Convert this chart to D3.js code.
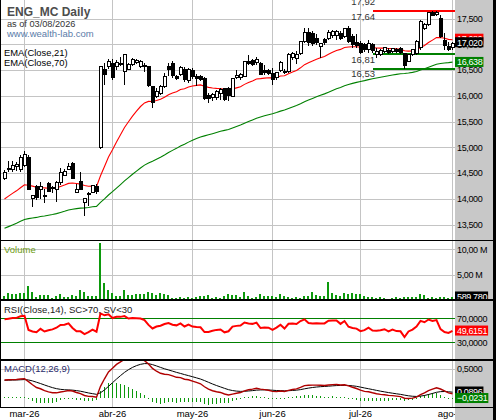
<!DOCTYPE html>
<html><head><meta charset="utf-8">
<script src="https://cdn.jsdelivr.net/npm/d3@7"></script>
<style>
body{margin:0;background:#fff}
svg{display:block}
text{font-family:"Liberation Sans",Arial,sans-serif}
</style>
</head><body>
<svg id="c" width="496" height="420"></svg>
<script>
// ---------- DATA ----------
const opens = [14.39,14.57,14.58,14.62,14.58,14.65,14.82,14.00,14.26,14.18,
14.04,14.31,14.24,14.18,14.31,14.46,14.58,14.70,14.13,14.34,
13.93,14.08,14.13,14.26,14.99,16.52,16.57,16.64,16.56,16.60,
16.47,16.52,16.60,16.64,16.56,16.60,16.57,16.19,15.99,16.05,
16.18,16.57,16.64,16.39,16.41,16.52,16.29,16.51,16.39,16.38,
16.34,16.02,15.96,15.96,16.05,16.15,16.15,15.98,16.35,16.35,
16.38,16.67,16.69,16.64,16.64,16.51,16.51,16.44,16.35,16.50,
16.49,16.47,16.74,16.73,16.82,17.05,17.24,17.22,17.13,16.95,
17.10,17.12,17.17,17.17,17.21,17.15,17.32,17.17,17.05,17.03,
17.01,16.89,17.01,16.80,16.81,16.86,16.89,16.86,16.90,16.92,
16.83,16.67,16.80,16.83,16.93,17.31,17.38,17.62,17.57,17.51,
17.09,16.96,16.93];
const highs = [14.57,14.73,14.73,14.72,14.86,14.93,14.86,14.08,14.27,14.32,
14.19,14.33,14.26,14.34,14.60,14.58,14.70,14.71,14.29,14.53,
14.01,14.13,14.27,14.29,16.58,16.64,16.71,16.71,16.70,16.76,
16.81,16.64,16.73,16.71,16.69,16.64,16.58,16.19,16.15,16.21,
16.44,16.64,16.67,16.41,16.57,16.56,16.54,16.54,16.43,16.41,
16.37,16.05,16.05,16.12,16.15,16.16,16.18,16.34,16.51,16.44,
16.68,16.80,16.71,16.76,16.65,16.60,16.52,16.54,16.47,16.67,
16.53,16.83,16.85,16.86,17.06,17.31,17.31,17.25,17.19,17.03,
17.12,17.28,17.27,17.28,17.25,17.32,17.35,17.19,17.20,17.06,
17.03,17.09,17.03,16.93,16.91,16.95,16.92,16.93,16.93,16.94,
16.84,16.81,16.91,17.09,17.48,17.41,17.62,17.64,17.64,17.57,
17.22,17.05,17.05];
const lows = [14.37,14.53,14.53,14.55,14.53,14.62,14.17,13.85,13.98,13.99,
13.92,14.13,14.11,13.95,14.27,14.44,14.57,14.38,14.11,14.17,
13.67,13.87,14.11,14.10,14.97,16.21,16.52,16.31,16.51,16.57,
16.21,16.51,16.58,16.62,16.54,16.47,16.18,15.77,15.96,16.02,
16.15,16.38,16.34,16.30,16.38,16.27,16.25,16.33,16.20,16.28,
15.92,15.86,15.89,15.92,15.92,15.89,15.89,15.97,16.33,16.31,
16.37,16.60,16.57,16.60,16.40,16.41,16.41,16.21,16.31,16.47,
16.43,16.45,16.70,16.62,16.80,17.02,16.97,16.96,16.99,16.74,
16.99,17.09,17.13,17.09,17.09,17.13,17.02,16.93,16.93,16.82,
16.85,16.83,16.84,16.73,16.78,16.84,16.82,16.84,16.83,16.82,
16.53,16.65,16.78,16.80,16.89,17.28,17.35,17.54,17.54,17.12,
16.89,16.86,16.89];
const closes = [14.52,14.59,14.64,14.66,14.81,14.86,14.18,14.07,14.02,14.24,
14.06,14.14,14.20,14.31,14.51,14.53,14.63,14.39,14.18,14.18,
14.00,14.11,14.26,14.13,16.57,16.41,16.67,16.34,16.64,16.63,
16.80,16.60,16.71,16.69,16.67,16.56,16.19,15.86,16.09,16.18,
16.38,16.51,16.38,16.33,16.54,16.31,16.51,16.36,16.33,16.31,
15.93,15.94,16.02,16.09,16.12,15.92,15.99,16.33,16.39,16.41,
16.67,16.62,16.60,16.70,16.41,16.44,16.43,16.31,16.45,16.65,
16.44,16.80,16.82,16.80,17.05,17.22,17.03,17.01,17.03,17.02,
17.02,17.22,17.24,17.24,17.11,17.30,17.05,16.99,16.96,16.83,
16.88,17.01,16.87,16.86,16.88,16.93,16.84,16.91,16.85,16.84,
16.57,16.80,16.89,17.05,17.44,17.38,17.61,17.55,17.62,17.15,
16.96,16.89,17.02];
// volume in millions of shares
const volumes = [0.79,1.45,1.3,1.3,1.45,1.45,2.8,1.65,0.66,1.0,
1.0,1.0,0.46,0.8,1.2,0.66,0.66,1.0,0.85,2.1,
1.65,0.8,0.8,0.8,11.2,3.4,2.1,1.45,0.8,0.8,
2.1,1.0,1.0,1.2,1.2,1.2,1.65,1.45,1.0,1.45,
1.3,1.0,0.52,0.52,0.66,0.52,0.66,0.46,0.66,0.8,
0.8,1.0,0.46,0.66,0.52,0.8,1.2,1.0,1.0,0.66,
1.65,0.8,0.46,0.66,1.2,0.8,0.8,0.8,0.66,1.2,
0.8,0.66,0.52,0.66,0.52,0.8,0.8,1.65,1.0,0.8,
0.8,3.6,1.45,1.0,0.8,1.45,1.3,1.45,1.2,1.2,
0.8,0.66,0.66,0.52,0.66,0.46,0.33,0.52,0.66,0.52,
0.66,0.66,0.66,0.66,1.2,1.0,0.52,0.66,0.52,0.66,
0.66,0.52,0.58978];

const monthLabels = ["mar-26","abr-26","may-26","jun-26","jul-26","ago-26"];
const monthStartIdx = [5,27,47,67,89,112];
const priceTicks = [13.5,14,14.5,15,15.5,16,16.5,17,17.5];
const volumeTicks = [5,10];
const rsiTicks = [30,50,70];
const rsiBands = [30,70];
const macdTicks = [0.5];
const resistanceLevels = [17.92,17.64];
const supportLevels = [16.81,16.53];

// indicator starting states (history before first bar)
const ema21Start = 14.00, ema70Start = 13.43;
const rsiGainStart = 0.09, rsiLossStart = 0.042;
const ema12Start = 14.26, ema26Start = 13.955, signalStart = 0.30;

// values shown in the right-hand value boxes
const lastEma70Label = 16.638;
const lastRsiLabel = 49.6151;
const lastSignalLabel = 0.0896;
const lastHistLabel = -0.0231;
const lastVolumeShares = 589780;

// ---------- INDICATORS ----------
function ema(src, n, start){const a=2/(n+1);const o=[start];for(let i=1;i<src.length;i++)o.push(o[i-1]+a*(src[i]-o[i-1]));return o;}
const ema21 = ema(closes,21,ema21Start);
const ema70 = ema(closes,70,ema70Start);
const rsi = (()=>{let g=rsiGainStart,l=rsiLossStart;const o=[100*g/(g+l)];
  for(let i=1;i<closes.length;i++){const d=closes[i]-closes[i-1];g=(g*13+Math.max(d,0))/14;l=(l*13+Math.max(-d,0))/14;o.push(100*g/(g+l));}return o;})();
const e12 = ema(closes,12,ema12Start), e26 = ema(closes,26,ema26Start);
const macd = e12.map((v,i)=>v-e26[i]);
const signal = ema(macd,9,signalStart);
const hist = macd.map((v,i)=>v-signal[i]);

// ---------- DRAW ----------
const loc = d3.formatLocale({decimal:",",thousands:".",grouping:[3],currency:["",""]});
const f2=loc.format(".2f"), f3=loc.format(".3f"), f4=loc.format(".4f"), fInt=loc.format(",.0f");

const svg = d3.select("#c");
const plotR = 455;
const n = closes.length;
const x = d3.scaleLinear().domain([0,n-1]).range([4.5,4.5+4*(n-1)]);
const yP = d3.scaleLinear().domain([13.5,17.5]).range([224.7,18.5]);
const yV = d3.scaleLinear().domain([0,10]).range([300.5,249.3]);
const yR = d3.scaleLinear().domain([0,100]).range([360.3,300.3]);
const yM = d3.scaleLinear().domain([0,0.5]).range([397.7,368.7]);

const defs = svg.append("defs");
function clip(id,x0,y0,w,h){defs.append("clipPath").attr("id",id).append("rect").attr("x",x0).attr("y",y0).attr("width",w).attr("height",h);}
clip("cp",0,0,plotR,240); clip("cv",0,240,plotR,59); clip("cr",0,300,plotR,59); clip("cm",0,361,plotR,46); clip("cx",0,407,plotR,13);
clip("cvr",plotR,240,38,59);

svg.append("rect").attr("width",496).attr("height",420).attr("fill","#fff");
svg.append("rect").attr("x",plotR).attr("y",0).attr("width",38).attr("height",420).attr("fill","#c8c8c8");
svg.append("rect").attr("x",493).attr("y",0).attr("width",3).attr("height",420).attr("fill","#000");

const grid = svg.append("g").attr("stroke","#c4c4c4").attr("stroke-width",1).attr("shape-rendering","crispEdges");
monthStartIdx.forEach(i=>grid.append("line").attr("x1",x(i)).attr("x2",x(i)).attr("y1",0).attr("y2",407));
priceTicks.forEach(v=>grid.append("line").attr("x1",0).attr("x2",plotR).attr("y1",Math.round(yP(v))+0.5).attr("y2",Math.round(yP(v))+0.5));
volumeTicks.forEach(v=>grid.append("line").attr("x1",0).attr("x2",plotR).attr("y1",Math.round(yV(v))+0.5).attr("y2",Math.round(yV(v))+0.5));
macdTicks.forEach(v=>grid.append("line").attr("x1",0).attr("x2",plotR).attr("y1",Math.round(yM(v))+0.5).attr("y2",Math.round(yM(v))+0.5));

// ---- price panel
const pp = svg.append("g").attr("clip-path","url(#cp)");
pp.append("path").datum(ema70).attr("fill","none").attr("stroke","#008000").attr("stroke-width",1.1)
  .attr("d",d3.line().x((d,i)=>x(i)).y(d=>yP(d)));
pp.append("path").datum(ema21).attr("fill","none").attr("stroke","#ff0000").attr("stroke-width",1.1)
  .attr("d",d3.line().x((d,i)=>x(i)).y(d=>yP(d)));
const lvl = pp.append("g").attr("shape-rendering","crispEdges");
resistanceLevels.forEach(v=>lvl.append("line").attr("x1",373).attr("x2",plotR).attr("y1",yP(v)).attr("y2",yP(v)).attr("stroke","#ff0000").attr("stroke-width",2));
supportLevels.forEach(v=>lvl.append("line").attr("x1",373).attr("x2",plotR).attr("y1",yP(v)).attr("y2",yP(v)).attr("stroke","#008000").attr("stroke-width",2));
resistanceLevels.concat(supportLevels).forEach(v=>pp.append("text").attr("x",375).attr("y",yP(v)+8.5)
  .attr("text-anchor","end").attr("font-size",9.5).attr("fill","#333").text(f2(v)));

const cg = pp.append("g").attr("shape-rendering","crispEdges");
closes.forEach((c,i)=>{
  const cx = x(i), o=opens[i];
  cg.append("line").attr("x1",cx).attr("x2",cx).attr("y1",yP(highs[i])).attr("y2",yP(lows[i])).attr("stroke","#000");
  const top = yP(Math.max(o,c)), bot = yP(Math.min(o,c));
  if(c>=o){
    cg.append("rect").attr("x",cx-1.5).attr("y",top).attr("width",3).attr("height",Math.max(1,bot-top))
      .attr("fill","#fff").attr("stroke","#000").attr("stroke-width",1);
  } else {
    cg.append("rect").attr("x",cx-2).attr("y",top).attr("width",4).attr("height",Math.max(1,bot-top)).attr("fill","#000");
  }
});

// title
svg.append("text").attr("x",7).attr("y",16).attr("font-size",12).attr("font-weight","bold").attr("fill","#4d4d4d").text("ENG_MC Daily");
svg.append("text").attr("x",7).attr("y",26.5).attr("font-size",9.2).attr("fill","#333").text("as of 03/08/2026");
svg.append("text").attr("x",7).attr("y",36.5).attr("font-size",9.5).attr("fill","#5b7ba8").text("www.wealth-lab.com");
svg.append("text").attr("x",4).attr("y",56).attr("font-size",9.4).attr("fill","#000").text("EMA(Close,21)");
svg.append("text").attr("x",4).attr("y",66).attr("font-size",9.4).attr("fill","#000").text("EMA(Close,70)");

// ---- volume panel
const vp = svg.append("g").attr("clip-path","url(#cv)").attr("shape-rendering","crispEdges");
volumes.forEach((v,i)=>vp.append("rect").attr("x",x(i)-1.5).attr("y",yV(v)).attr("width",2).attr("height",300-yV(v)).attr("fill","#0c990c"));
svg.append("text").attr("x",4).attr("y",252.5).attr("font-size",9.5).attr("fill","#6c9b10").text("Volume");

// ---- RSI panel
const rp = svg.append("g").attr("clip-path","url(#cr)");
rsiBands.forEach(v=>rp.append("line").attr("x1",0).attr("x2",plotR).attr("y1",Math.round(yR(v))+0.5).attr("y2",Math.round(yR(v))+0.5)
  .attr("stroke","#008000").attr("shape-rendering","crispEdges"));
rp.append("path").datum(rsi).attr("fill","none").attr("stroke","#ff0000").attr("stroke-width",2)
  .attr("d",d3.line().x((d,i)=>x(i)).y(d=>yR(d)));
svg.append("text").attr("x",4).attr("y",312.5).attr("font-size",9.5).attr("fill","#222").text("RSI(Close,14), SC>70, SV<30");

// ---- MACD panel
const mp = svg.append("g").attr("clip-path","url(#cm)");
hist.forEach((h,i)=>{const y0=yM(0), y1=yM(h); mp.append("rect").attr("x",x(i)-0.5).attr("y",Math.min(y0,y1)).attr("width",1)
  .attr("height",Math.max(1,Math.abs(y1-y0))).attr("fill","#0c990c").attr("shape-rendering","crispEdges");});
mp.append("path").datum(signal).attr("fill","none").attr("stroke","#000").attr("stroke-width",1)
  .attr("d",d3.line().x((d,i)=>x(i)).y(d=>yM(d)));
mp.append("path").datum(macd).attr("fill","none").attr("stroke","#b00000").attr("stroke-width",1.4)
  .attr("d",d3.line().x((d,i)=>x(i)).y(d=>yM(d)));
svg.append("text").attr("x",4).attr("y",372).attr("font-size",9.5).attr("fill","#2a2a6a").text("MACD(12,26,9)");

// ---- separators & borders
const sep = svg.append("g").attr("stroke","#000").attr("shape-rendering","crispEdges");
sep.append("line").attr("x1",0).attr("x2",496).attr("y1",240.5).attr("y2",240.5);
sep.append("line").attr("x1",0).attr("x2",496).attr("y1",300).attr("y2",300).attr("stroke-width",2);
sep.append("line").attr("x1",0).attr("x2",496).attr("y1",360).attr("y2",360).attr("stroke-width",2);
sep.append("line").attr("x1",0).attr("x2",496).attr("y1",407.5).attr("y2",407.5);
sep.append("line").attr("x1",0.5).attr("x2",0.5).attr("y1",0).attr("y2",407);

// ---- right axis labels
const ax = svg.append("g").attr("font-size",9).attr("letter-spacing",-0.35).attr("fill","#000");
priceTicks.forEach(v=>ax.append("text").attr("x",457).attr("y",yP(v)+3.3).text(f3(v)));
volumeTicks.forEach(v=>ax.append("text").attr("x",457).attr("y",yV(v)+3.3).text(f2(v)+" M"));
rsiTicks.forEach(v=>ax.append("text").attr("x",457).attr("y",yR(v)+3.3).text(f4(v)));
macdTicks.forEach(v=>ax.append("text").attr("x",457).attr("y",yM(v)+3.3).text(f4(v)));

function box(val,yc,fill,txt,clipId){
  const g = svg.append("g"); if(clipId) g.attr("clip-path","url(#"+clipId+")");
  const t = g.append("text").attr("x",457).attr("y",yc+3.3).attr("font-size",9).attr("letter-spacing",-0.35).attr("fill","#fff").text(txt);
  const w = t.node().getComputedTextLength()+3;
  g.insert("rect","text").attr("x",455).attr("y",yc-5).attr("width",w).attr("height",10).attr("fill",fill);
}
box(ema21[n-1],yP(ema21[n-1])-1,"#ff0000",f3(ema21[n-1]));
box(closes[n-1],yP(closes[n-1])-1,"#000",f3(closes[n-1]));
box(lastEma70Label,yP(lastEma70Label)-1,"#008000",f3(lastEma70Label));
box(lastVolumeShares,yV(lastVolumeShares/1e6)-1,"#000",fInt(lastVolumeShares),"cvr");
box(lastRsiLabel,yR(lastRsiLabel),"#ff0000",f4(lastRsiLabel));
box(lastSignalLabel,yM(lastSignalLabel)-1,"#000",f4(lastSignalLabel));
box(lastHistLabel,yM(lastHistLabel)-1,"#008000",f4(lastHistLabel));

// ---- x axis labels
const xl = svg.append("g").attr("clip-path","url(#cx)");
monthStartIdx.forEach((i,k)=>xl.append("text").attr("x",x(i)).attr("y",416.5).attr("text-anchor","middle")
  .attr("font-size",9.5).attr("fill","#000").text(monthLabels[k]));
</script>
</body></html>
